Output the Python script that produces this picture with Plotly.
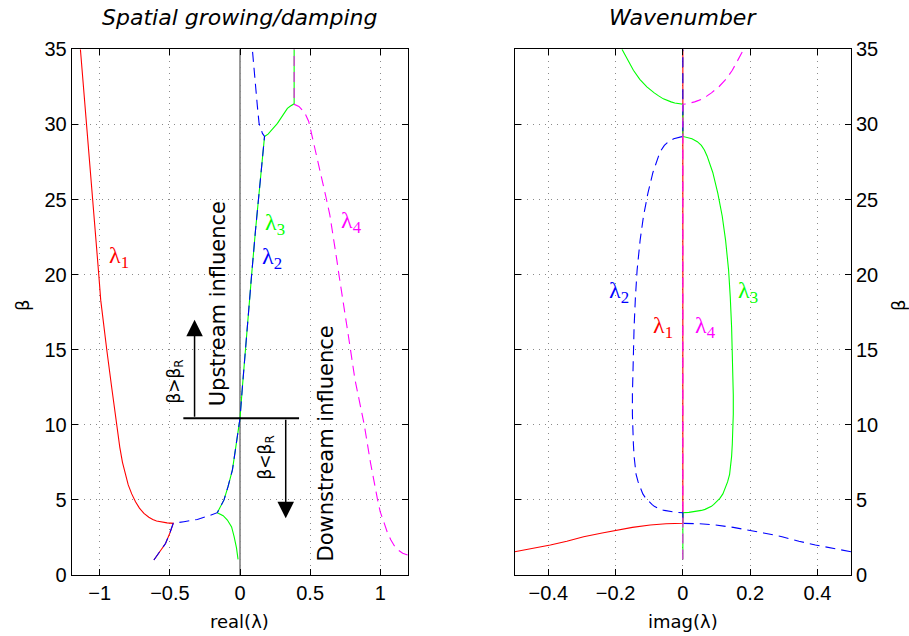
import plotly.graph_objects as go

# ---------------- data ----------------
# lambda1 / lambda2 complex-conjugate pair, beta < 3.44 : shared real part
b12_lo = [1.0, 1.5, 2.1, 2.8, 3.44]
re12_lo = [-0.614, -0.575, -0.531, -0.50, -0.476]
# lambda1 imaginary part (negative) for beta < 3.44 (lambda2 = conjugate)
b1_im = [1.55, 1.75, 2.0, 2.25, 2.55, 2.8, 3.0, 3.17, 3.33, 3.41, 3.44]
im1_lo = [-0.5, -0.45, -0.394, -0.345, -0.295, -0.24, -0.196, -0.15, -0.097, -0.05, 0.0]
# lambda1 real branch, beta >= 3.44
b1_hi = [3.44, 3.47, 3.52, 3.6, 3.7, 3.85, 4.1, 4.45, 4.88, 5.4, 6.0, 6.7, 7.5, 8.5, 10,
         12.5, 15, 18.3, 20, 25, 30, 35]
re1_hi = [-0.476, -0.52, -0.56, -0.595, -0.622, -0.65, -0.685, -0.717, -0.745, -0.772,
          -0.797, -0.818, -0.838, -0.857, -0.88, -0.915, -0.95, -0.993, -1.007, -1.05,
          -1.095, -1.138]
# lambda2 real branch, 3.44 <= beta <= 4.15
b2_mid = [3.44, 3.55, 3.7, 3.95, 4.15]
re2_mid = [-0.476, -0.40, -0.304, -0.22, -0.162]
# lambda3 real branch, beta <= 4.15
b3_lo = [1.04, 1.8, 2.55, 3.2, 3.66, 3.95, 4.15]
re3_lo = [-0.014, -0.025, -0.042, -0.06, -0.09, -0.12, -0.162]
# lambda2 / lambda3 complex pair, 4.15 <= beta <= 29.2 : real part
b23_re = [4.15, 4.6, 5.0, 5.9, 7.0, 8.2, 9.4, 10.43, 12.5, 15, 17, 20, 23, 26, 28, 29.2]
re23 = [-0.162, -0.137, -0.114, -0.085, -0.054, -0.035, -0.019, 0.0, 0.017, 0.038,
        0.056, 0.083, 0.111, 0.14, 0.16, 0.175]
# lambda2 / lambda3 complex pair : |imag| (lambda2 negative, lambda3 positive)
b23_im = [4.15, 4.17, 4.2, 4.25, 4.3, 4.37, 4.45, 4.57, 4.7, 4.9, 5.1, 5.4, 5.8, 6.2, 6.7,
          7.3, 7.9, 8.7, 9.5, 10.7, 12, 14.3, 16.5, 18.5, 20.3, 22.3, 23.9, 25.4, 26.8,
          27.9, 28.3, 28.6, 28.85, 29.05, 29.2]
im23 = [0.0, 0.018, 0.03, 0.044, 0.055, 0.066, 0.075, 0.085, 0.092, 0.102, 0.11, 0.119,
        0.127, 0.133, 0.139, 0.143, 0.145, 0.147, 0.149, 0.15, 0.15, 0.148, 0.145, 0.141,
        0.136, 0.127, 0.117, 0.104, 0.089, 0.072, 0.064, 0.055, 0.043, 0.027, 0.0]
# lambda2 real branch, beta >= 29.2
b2_hi = [29.2, 29.4, 30.07, 31.2, 32.3, 33.6, 35]
re2_hi = [0.175, 0.16, 0.136, 0.124, 0.112, 0.10, 0.088]
# lambda3 real branch, 29.2 <= beta <= 31.34
b3_mid = [29.2, 29.35, 29.55, 29.8, 30.07, 30.35, 30.6, 30.85, 31.07, 31.22, 31.34]
re3_mid = [0.175, 0.2, 0.22, 0.243, 0.267, 0.287, 0.305, 0.322, 0.338, 0.36, 0.386]
# lambda3 / lambda4 complex pair, beta >= 31.34
b34 = [31.34, 31.37, 31.42, 31.5, 31.6, 31.7, 31.9, 32.1, 32.5, 33.0, 33.6, 34.3, 35]
re34 = [0.386] * 13
im34 = [0.0, 0.012, 0.024, 0.035, 0.047, 0.058, 0.072, 0.085, 0.107, 0.128, 0.147, 0.165,
        0.181]
# lambda4 real branch, beta <= 31.34
b4 = [1.33, 1.45, 1.65, 1.95, 2.33, 2.85, 3.4, 4.2, 5.0, 7.5, 10, 13, 16.1, 18.3, 19.9,
      21, 22.6, 24, 25.2, 26.7, 28.2, 29.3, 30.2, 30.8, 31.2, 31.34]
re4 = [1.195, 1.16, 1.13, 1.1, 1.076, 1.05, 1.03, 1.0, 0.981, 0.93, 0.886, 0.82, 0.77,
       0.731, 0.707, 0.69, 0.665, 0.64, 0.612, 0.575, 0.54, 0.515, 0.49, 0.46, 0.42, 0.386]

beta_cross = 10.43
bR_line = [-0.404, 0.421]

RED, GREEN, BLUE, MAG = "#ff0000", "#00ff00", "#0000ff", "#ff00ff"
DASH = "10px,6px"

def neg(a):
    return [-v for v in a]

# ---------- assemble each eigenvalue's real / imag curve ----------
L1_b_re = b12_lo + b1_hi[1:]
L1_re = re12_lo + re1_hi[1:]
L1_b_im = b1_im + [35]
L1_im = im1_lo + [0.0]

L2_b_re = b12_lo + b2_mid[1:] + b23_re[1:] + b2_hi[1:]
L2_re = re12_lo + re2_mid[1:] + re23[1:] + re2_hi[1:]
L2_b_im = b1_im + [4.15] + b23_im[1:] + [35]
L2_im = neg(im1_lo) + [0.0] + neg(im23)[1:] + [0.0]

L3_b_re = b3_lo + b23_re[1:] + b3_mid[1:] + b34[1:]
L3_re = re3_lo + re23[1:] + re3_mid[1:] + re34[1:]
L3_b_im = [1.04] + b23_im + [31.34] + b34[1:]
L3_im = [0.0] + im23 + [0.0] + neg(im34)[1:]

L4_b_re = b4 + b34[1:]
L4_re = re4 + re34[1:]
L4_b_im = [1.04] + b34
L4_im = [0.0] + im34

fig = go.Figure()

def add(x, y, color, dash, xa, ya):
    fig.add_trace(go.Scatter(x=x, y=y, mode="lines", xaxis=xa, yaxis=ya,
                             line=dict(color=color, width=1.1, dash=dash),
                             showlegend=False, hoverinfo="skip"))

# drawing order: red, green, blue, magenta
add(L1_re, L1_b_re, RED, "solid", "x", "y")
add(L3_re, L3_b_re, GREEN, "solid", "x", "y")
add(L2_re, L2_b_re, BLUE, DASH, "x", "y")
add(L4_re, L4_b_re, MAG, DASH, "x", "y")

add(L1_im, L1_b_im, RED, "solid", "x2", "y2")
add(L3_im, L3_b_im, GREEN, "solid", "x2", "y2")
add(L2_im, L2_b_im, BLUE, DASH, "x2", "y2")
add(L4_im, L4_b_im, MAG, DASH, "x2", "y2")

W, H = 909, 636
xl = [71.7 / W, 408.3 / W]
xr = [514.7 / W, 851.0 / W]
yd = [(H - 575.0) / H, (H - 49.3) / H]

tickfont = dict(family="Liberation Sans, Arial, sans-serif", size=20, color="black")
common = dict(showline=True, linecolor="black", linewidth=1, mirror="ticks",
              ticks="inside", ticklen=6, tickcolor="black", tickwidth=1,
              showgrid=True, gridcolor="#8a8a8a", griddash="1px,5px", gridwidth=1,
              zeroline=False, tickfont=tickfont, automargin=False)

fig.update_layout(
    width=W, height=H, margin=dict(l=0, r=0, t=0, b=0, autoexpand=False),
    paper_bgcolor="white", plot_bgcolor="white",
    xaxis=dict(domain=xl, range=[-1.2, 1.2], tickvals=[-1, -0.5, 0, 0.5, 1],
               anchor="y", **common),
    yaxis=dict(domain=yd, range=[0, 35], dtick=5, anchor="x", **common),
    xaxis2=dict(domain=xr, range=[-0.5, 0.5], tickvals=[-0.4, -0.2, 0, 0.2, 0.4],
                anchor="y2", **common),
    yaxis2=dict(domain=yd, range=[0, 35], dtick=5, anchor="x2", side="right", **common),
)

# vertical zero line in left panel
fig.add_shape(type="line", xref="x", yref="y", x0=0, x1=0, y0=0, y1=35,
              line=dict(color="#555555", width=1.2), layer="below")
# beta_R horizontal line
fig.add_shape(type="line", xref="x", yref="y", x0=bR_line[0], x1=bR_line[1],
              y0=beta_cross, y1=beta_cross, line=dict(color="black", width=2))

# arrows
fig.add_annotation(x=-0.324, y=17.0, ax=-0.324, ay=beta_cross, xref="x", yref="y",
                   axref="x", ayref="y", text="", showarrow=True, arrowhead=2,
                   arrowsize=2.2, arrowwidth=1.5, arrowcolor="black", standoff=0)
fig.add_annotation(x=0.326, y=3.77, ax=0.326, ay=beta_cross, xref="x", yref="y",
                   axref="x", ayref="y", text="", showarrow=True, arrowhead=2,
                   arrowsize=2.2, arrowwidth=1.5, arrowcolor="black", standoff=0)

dv = "DejaVu Sans, sans-serif"
def txt(x, y, s, size, color="black", angle=0, family=dv, xref="x", yref="y"):
    fig.add_annotation(x=x, y=y, xref=xref, yref=yref, text=s, showarrow=False,
                       textangle=angle, font=dict(family=family, size=size, color=color),
                       xanchor="center", yanchor="middle")

txt(-0.161, 18.05, "Upstream influence", 21, angle=-90)
txt(0.612, 8.75, "Downstream influence", 21, angle=-90)
txt(-0.459, 12.85, "β&gt;β<sub>R</sub>", 17, angle=-90)
txt(0.19, 7.8, "β&lt;β<sub>R</sub>", 17, angle=-90)

serif = "Liberation Serif, Times New Roman, serif"
txt(-0.864, 21.15, "λ<sub>1</sub>", 24, RED, family=serif)
txt(0.231, 21.1, "λ<sub>2</sub>", 24, BLUE, family=serif)
txt(0.248, 23.4, "λ<sub>3</sub>", 24, GREEN, family=serif)
txt(0.796, 23.5, "λ<sub>4</sub>", 24, MAG, family=serif)

txt(-0.058, 16.49, "λ<sub>1</sub>", 24, RED, family=serif, xref="x2", yref="y2")
txt(-0.191, 18.86, "λ<sub>2</sub>", 24, BLUE, family=serif, xref="x2", yref="y2")
txt(0.195, 18.86, "λ<sub>3</sub>", 24, GREEN, family=serif, xref="x2", yref="y2")
txt(0.066, 16.49, "λ<sub>4</sub>", 24, MAG, family=serif, xref="x2", yref="y2")

# titles and axis labels (paper coords)
def ptxt(px, py, s, size, angle=0, italic=False):
    fig.add_annotation(x=px / W, y=1 - py / H, xref="paper", yref="paper", text=s,
                       showarrow=False, textangle=angle,
                       font=dict(family=dv, size=size, color="black",
                                 style="italic" if italic else "normal"),
                       xanchor="center", yanchor="middle")

ptxt(239.5, 18, "Spatial growing/damping", 22, italic=True)
ptxt(683, 18, "Wavenumber", 22, italic=True)
ptxt(240, 621, "real(λ)", 18)
ptxt(682.5, 621, "imag(λ)", 18)
ptxt(22, 305, "β", 18, angle=-90)
ptxt(898, 305, "β", 18, angle=-90)

fig.write_html("out.html",
               config={"displayModeBar": False, "staticPlot": True},
               post_script="document.body.style.margin='0';"
                           "document.body.style.overflow='hidden';")
